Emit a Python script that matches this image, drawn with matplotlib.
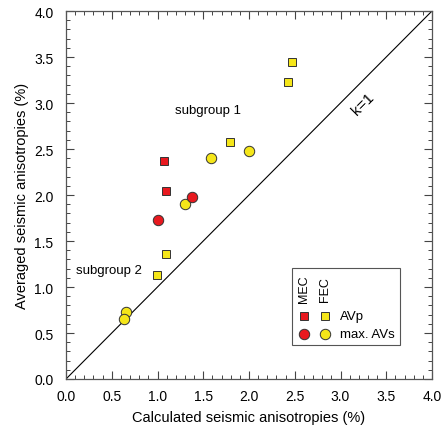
import matplotlib
matplotlib.use("Agg")
import matplotlib.pyplot as plt
from matplotlib.patches import Rectangle
from matplotlib.ticker import MultipleLocator, FormatStrFormatter

plt.rcParams['font.family'] = ['Liberation Sans', 'DejaVu Sans']

# Data (calculated, averaged)
mec_avp_x = [1.07, 1.09]
mec_avp_y = [2.37, 2.04]
mec_avs_x = [1.00, 1.38]
mec_avs_y = [1.725, 1.98]
fec_avp_x = [2.47, 2.43, 1.79, 1.09, 0.99]
fec_avp_y = [3.45, 3.23, 2.58, 1.36, 1.13]
fec_avs_x = [2.00, 1.58, 1.30, 0.656, 0.63]
fec_avs_y = [2.48, 2.40, 1.90, 0.725, 0.655]
ref_line = [0.0, 4.0]

RED = '#e8191f'
YEL = '#f5e619'
EDGE = '#333333'

fig = plt.figure(figsize=(4.44, 4.31), dpi=100)
ax = fig.add_axes([66/444, 1-380/431, 366/444, 368/431])

ax.plot(ref_line, ref_line, color='black', lw=0.8, zorder=1)

sq = dict(marker='s', ms=5.8, mec=EDGE, mew=0.7, ls='none', zorder=3)
ci = dict(marker='o', ms=7.5, mec=EDGE, mew=0.7, ls='none', zorder=3)
ax.plot(fec_avp_x, fec_avp_y, mfc=YEL, **sq)
ax.plot(fec_avs_x, fec_avs_y, mfc=YEL, **ci)
ax.plot(mec_avp_x, mec_avp_y, mfc=RED, **sq)
ax.plot(mec_avs_x, mec_avs_y, mfc=RED, **ci)

ax.set_xlim(0, 4)
ax.set_ylim(0, 4)
ax.xaxis.set_major_locator(MultipleLocator(0.5))
ax.yaxis.set_major_locator(MultipleLocator(0.5))
ax.xaxis.set_minor_locator(MultipleLocator(0.1))
ax.yaxis.set_minor_locator(MultipleLocator(0.1))
ax.xaxis.set_major_formatter(FormatStrFormatter('%.1f'))
ax.yaxis.set_major_formatter(FormatStrFormatter('%.1f'))
ax.tick_params(which='both', direction='in', top=True, right=True, labelsize=10, color='#444444')
ax.tick_params(which='major', length=5.5, width=0.8)
ax.tick_params(which='minor', length=2.8, width=0.7)
ax.tick_params(axis='x', which='major', pad=7)
ax.tick_params(axis='y', which='major', pad=9)
for s in ax.spines.values():
    s.set_color('#555555')
    s.set_linewidth(0.9)

ax.set_xlabel('Calculated seismic anisotropies (%)', fontsize=10.5, labelpad=5)
ax.set_ylabel('Averaged seismic anisotropies (%)', fontsize=10.5, labelpad=4)

ax.text(1.55, 2.92, 'subgroup 1', fontsize=9.5, ha='center', va='center')
ax.text(0.47, 1.18, 'subgroup 2', fontsize=9.5, ha='center', va='center')
ax.text(3.25, 3.0, 'k=1', fontsize=11, ha='center', va='center', rotation=45)

# Custom legend
ax.add_patch(Rectangle((0.617, 0.092), 0.296, 0.21, transform=ax.transAxes,
                       fill=True, facecolor='white', edgecolor='#555555', lw=0.8, zorder=4))
ax.text(0.650, 0.247, 'MEC', transform=ax.transAxes, rotation=90, fontsize=9,
        ha='center', va='center', zorder=5)
ax.text(0.709, 0.247, 'FEC', transform=ax.transAxes, rotation=90, fontsize=9,
        ha='center', va='center', zorder=5)
ax.plot([0.650], [0.172], transform=ax.transAxes, mfc=RED, clip_on=False, **{**sq, 'zorder': 5})
ax.plot([0.709], [0.172], transform=ax.transAxes, mfc=YEL, clip_on=False, **{**sq, 'zorder': 5})
ax.plot([0.650], [0.122], transform=ax.transAxes, mfc=RED, clip_on=False, **{**ci, 'zorder': 5})
ax.plot([0.709], [0.122], transform=ax.transAxes, mfc=YEL, clip_on=False, **{**ci, 'zorder': 5})
ax.text(0.749, 0.172, 'AVp', transform=ax.transAxes, fontsize=9.5, ha='left', va='center', zorder=5)
ax.text(0.749, 0.122, 'max. AVs', transform=ax.transAxes, fontsize=9.5, ha='left', va='center', zorder=5)

fig.savefig('out.png', dpi=100)
